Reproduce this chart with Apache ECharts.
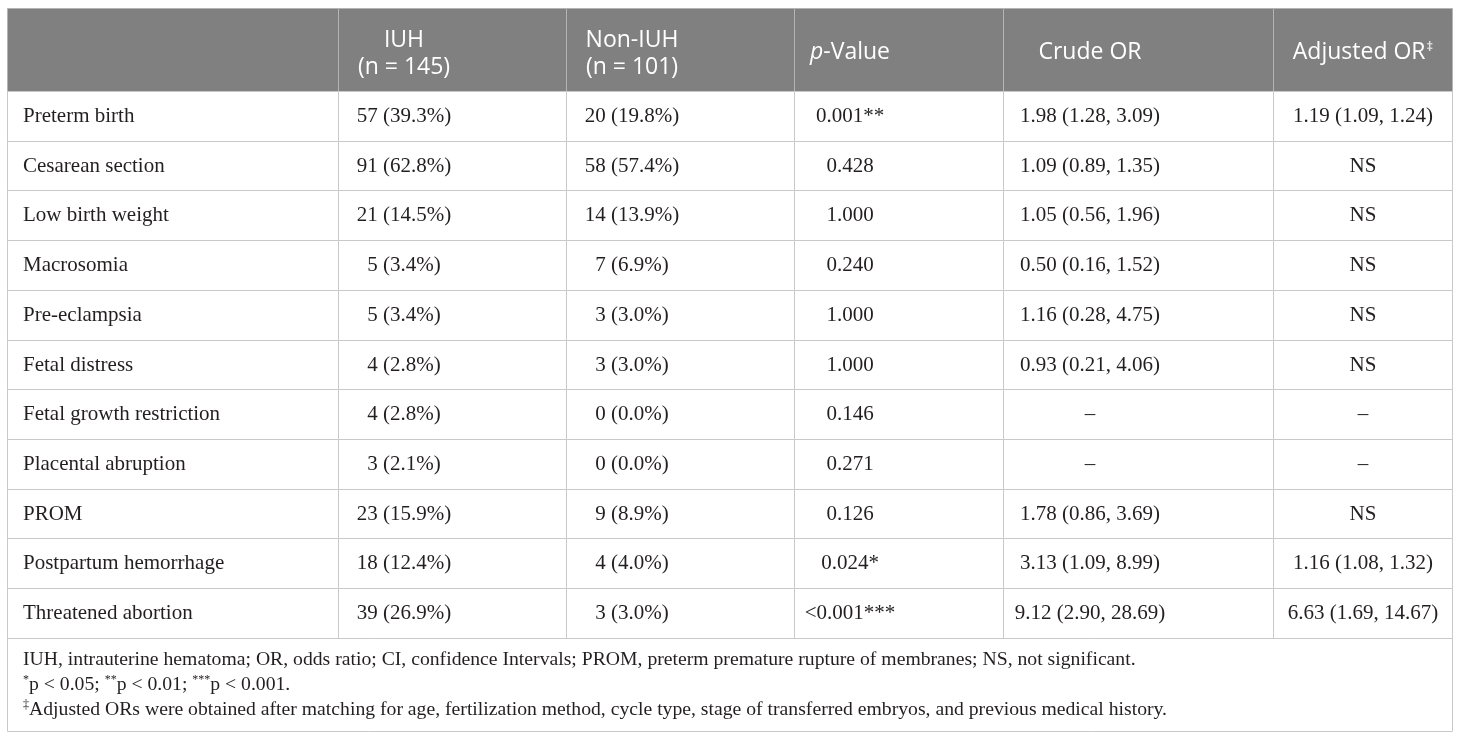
<!DOCTYPE html>
<html>
<head>
<meta charset="utf-8">
<title>IUH pregnancy outcomes</title>
<script src="https://cdn.jsdelivr.net/npm/echarts@6/dist/echarts.min.js"></script>
<style>
  html, body { margin: 0; padding: 0; background: #fff; }
  #main { width: 1460px; height: 740px; }
</style>
</head>
<body>
<div id="main"></div>
<script>
// table content
var headers = ['', 'IUH\n(n = 145)', 'Non-IUH\n(n = 101)', 'p-Value', 'Crude OR', 'Adjusted OR‡'];
var outcomes = ['Preterm birth', 'Cesarean section', 'Low birth weight', 'Macrosomia', 'Pre-eclampsia',
  'Fetal distress', 'Fetal growth restriction', 'Placental abruption', 'PROM', 'Postpartum hemorrhage',
  'Threatened abortion'];
var iuh = ['57 (39.3%)', '91 (62.8%)', '21 (14.5%)', '5 (3.4%)', '5 (3.4%)', '4 (2.8%)', '4 (2.8%)',
  '3 (2.1%)', '23 (15.9%)', '18 (12.4%)', '39 (26.9%)'];
var nonIuh = ['20 (19.8%)', '58 (57.4%)', '14 (13.9%)', '7 (6.9%)', '3 (3.0%)', '3 (3.0%)', '0 (0.0%)',
  '0 (0.0%)', '9 (8.9%)', '4 (4.0%)', '3 (3.0%)'];
var pValues = ['0.001**', '0.428', '1.000', '0.240', '1.000', '1.000', '0.146', '0.271', '0.126',
  '0.024*', '<0.001***'];
var crudeOr = ['1.98 (1.28, 3.09)', '1.09 (0.89, 1.35)', '1.05 (0.56, 1.96)', '0.50 (0.16, 1.52)',
  '1.16 (0.28, 4.75)', '0.93 (0.21, 4.06)', '–', '–', '1.78 (0.86, 3.69)', '3.13 (1.09, 8.99)',
  '9.12 (2.90, 28.69)'];
var adjustedOr = ['1.19 (1.09, 1.24)', 'NS', 'NS', 'NS', 'NS', 'NS', '–', '–', 'NS',
  '1.16 (1.08, 1.32)', '6.63 (1.69, 14.67)'];
var footnotes = [
  'IUH, intrauterine hematoma; OR, odds ratio; CI, confidence Intervals; PROM, preterm premature rupture of membranes; NS, not significant.',
  '*p < 0.05; **p < 0.01; ***p < 0.001.',
  '‡Adjusted ORs were obtained after matching for age, fertilization method, cycle type, stage of transferred embryos, and previous medical history.'
];

var columns = [outcomes, iuh, nonIuh, pValues, crudeOr, adjustedOr];

// layout (pixel units on hidden value axes)
var colEdges = [7.5, 338.5, 566.5, 794.5, 1003.5, 1273.5, 1452.5];
var colCenters = [23, 404, 632, 850, 1090, 1363];
var rowEdges = [8.5];
for (var i = 0; i <= outcomes.length; i++) {
  rowEdges.push(Math.round(91 + 49.7 * i) + 0.5);
}
var tableBottom = 731.5;

var SERIF = '"Liberation Serif", "Times New Roman", serif';
var SANS = '"Open Sans", "Noto Sans", sans-serif';
var INK = '#231f20';

var cells = [];
for (var r = 0; r <= outcomes.length; r++) {
  for (var c = 0; c < columns.length; c++) {
    cells.push([c, r]);
  }
}

// header label -> rich text (italic p, superscript double dagger)
function headerText(s) {
  return s.replace(/^p-/, '{i|p}-').replace('‡', '{sup|‡}');
}

function footText(s) {
  return s.replace(/(\*+)p/g, '{sup|$1}p').replace(/^‡/, '{sup|‡}');
}

function renderCell(params, api) {
  var c = api.value(0);
  var r = api.value(1);
  var tl = api.coord([colEdges[c], rowEdges[r]]);
  var br = api.coord([colEdges[c + 1], rowEdges[r + 1]]);
  var isHead = r === 0;
  var tx = api.coord([colCenters[c], 0])[0];
  var text = isHead ? headerText(headers[c]) : columns[c][r - 1];
  var ty = (tl[1] + br[1]) / 2;
  if (isHead) {
    ty += text.indexOf('\n') >= 0 ? 4 : 2;
  }
  return {
    type: 'group',
    children: [{
      type: 'rect',
      shape: { x: tl[0], y: tl[1], width: br[0] - tl[0], height: br[1] - tl[1] },
      style: { fill: isHead ? '#808080' : '#fff', stroke: isHead ? '#b4b4b4' : '#c9c9c9', lineWidth: 1 }
    }, {
      type: 'text',
      style: {
        x: tx,
        y: ty,
        text: text,
        fill: isHead ? '#fff' : INK,
        font: isHead ? '23px ' + SANS : '21px ' + SERIF,
        lineHeight: 27,
        align: c === 0 ? 'left' : 'center',
        verticalAlign: 'middle',
        rich: {
          i: { fontStyle: 'italic', fontFamily: SANS, fontSize: 23, fill: '#fff', lineHeight: 27 },
          sup: { fontFamily: SANS, fontSize: 13, fill: '#fff', verticalAlign: 'top', lineHeight: 27, padding: [2, 0, 0, 1] }
        }
      }
    }]
  };
}

var chart = echarts.init(document.getElementById('main'), null, { renderer: 'canvas' });

chart.setOption({
  animation: false,
  backgroundColor: '#fff',
  grid: { left: 0, right: 0, top: 0, bottom: 0 },
  xAxis: { type: 'value', min: 0, max: 1460, show: false },
  yAxis: { type: 'value', min: 0, max: 740, inverse: true, show: false },
  graphic: [{
    type: 'rect',
    shape: { x: colEdges[0], y: rowEdges[rowEdges.length - 1], width: colEdges[6] - colEdges[0],
      height: tableBottom - rowEdges[rowEdges.length - 1] },
    style: { fill: '#fff', stroke: '#c9c9c9', lineWidth: 1 },
    z: 10
  }].concat(footnotes.map(function(s, k) {
    return {
      type: 'text',
      x: 23,
      y: 660 + k * 25,
      z: 11,
      style: {
        text: footText(s),
        font: '19.7px ' + SERIF,
        fill: INK,
        verticalAlign: 'middle',
        lineHeight: 22,
        rich: {
          sup: { fontFamily: SERIF, fontSize: 12, fill: INK, verticalAlign: 'top', lineHeight: 22 }
        }
      }
    };
  })),
  series: [{
    type: 'custom',
    name: 'cells',
    coordinateSystem: 'cartesian2d',
    renderItem: renderCell,
    data: cells,
    silent: true
  }]
});
</script>
</body>
</html>
